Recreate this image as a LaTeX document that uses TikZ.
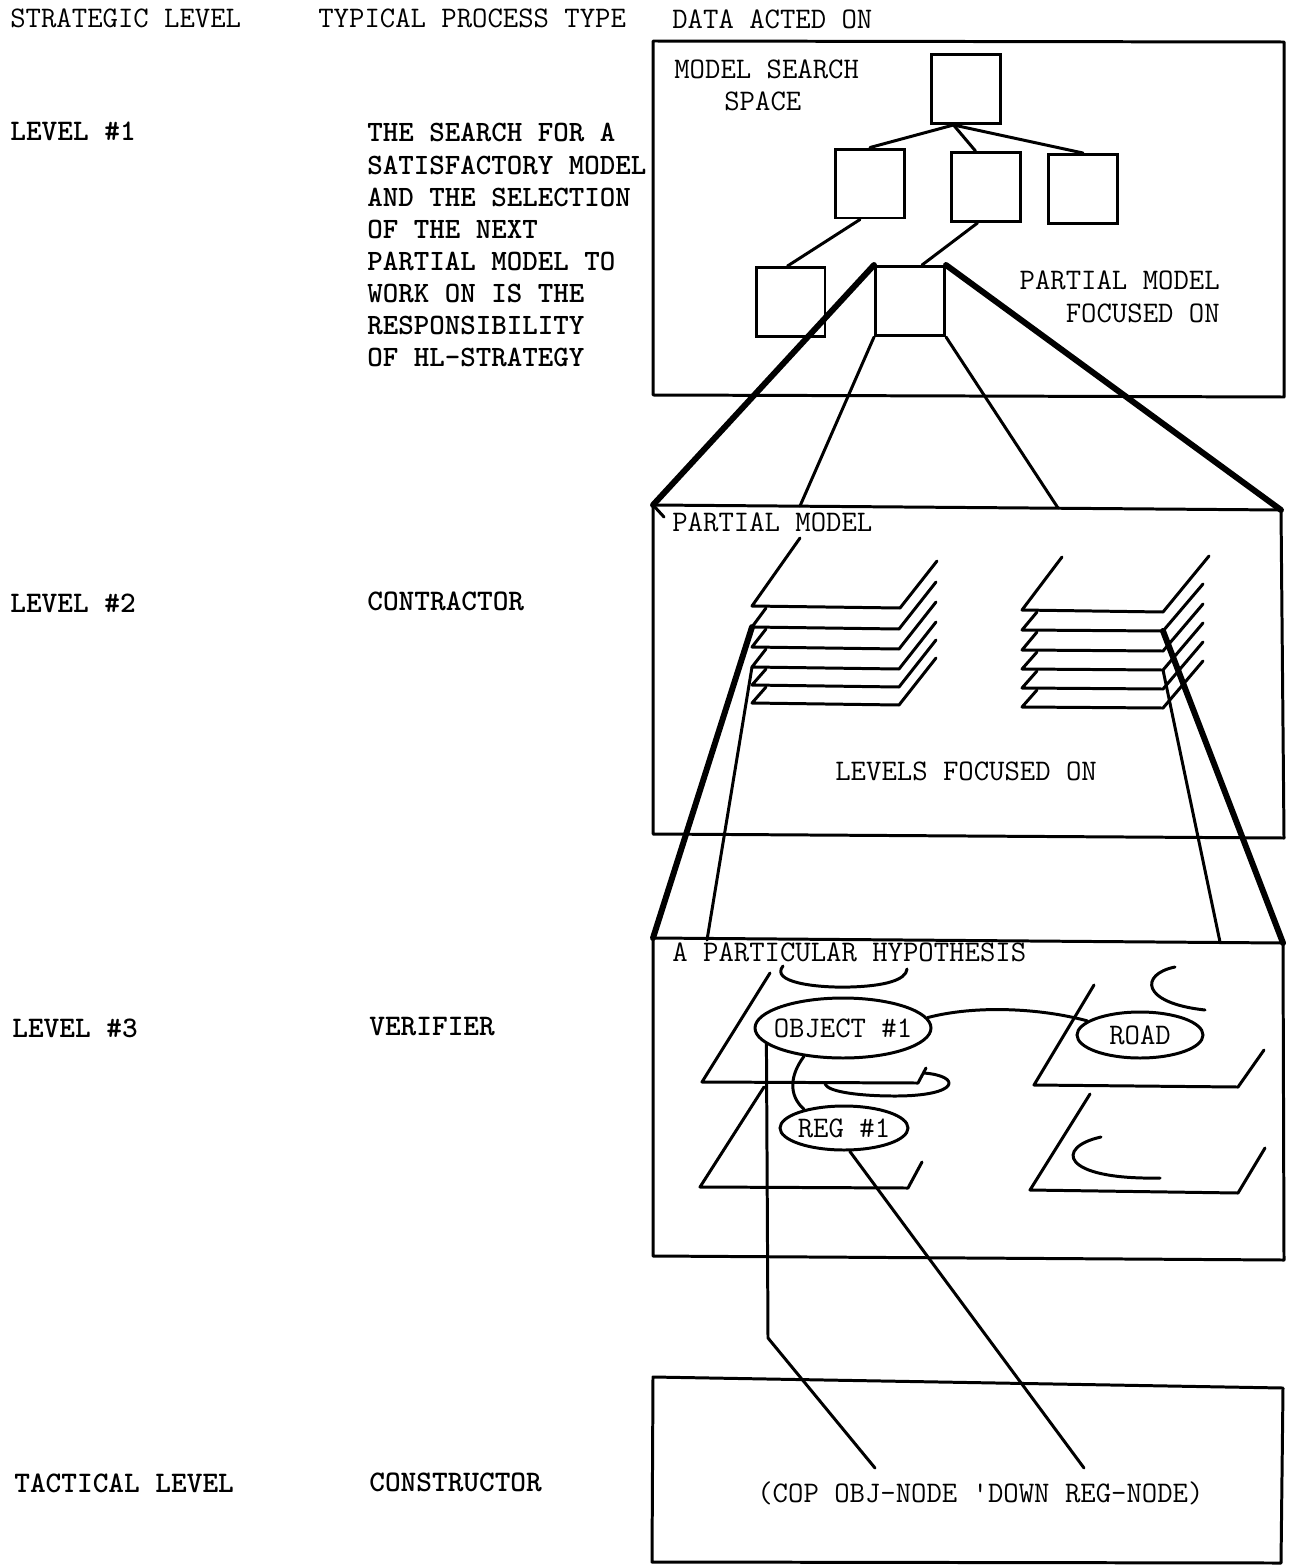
\documentclass[tikz,border=0pt]{standalone}
\usetikzlibrary{shapes.geometric,calc}
\begin{document}
\begin{tikzpicture}[x=0.02cm,y=-0.02cm,
  every node/.style={font=\fontsize{17}{18.3}\selectfont\ttfamily, inner sep=0pt},
  ln/.style={line width=1.7pt, line join=round, line cap=round},
  thk/.style={line width=3.4pt, line cap=round},
  lbl/.style={anchor=base west},
  blbl/.style={anchor=base west, font=\fontsize{17}{18.3}\selectfont\ttfamily\bfseries},
  rlbl/.style={anchor=base east},
  tbox/.style={draw, line width=1.7pt, minimum width=1.38cm, minimum height=1.38cm},
  oval/.style={draw, ellipse, line width=1.7pt}
]
\useasboundingbox (0,0) rectangle (1288,1568);

% column headers
\node[lbl] (h1) at (10,28) {STRATEGIC LEVEL};
\node[lbl] (h2) at (318,28) {TYPICAL PROCESS TYPE};
\node[lbl] (h3) at (672,29) {DATA ACTED ON};

% left columns
\node[blbl] (l1) at (10,140) {LEVEL \#1};
\node[blbl, align=left, font=\fontsize{16.8}{18.26}\selectfont\ttfamily\bfseries] (p1) at (367,366.5)
  {THE SEARCH FOR A\\SATISFACTORY MODEL\\AND THE SELECTION\\OF THE NEXT\\PARTIAL MODEL TO\\WORK ON IS THE\\RESPONSIBILITY\\OF HL-STRATEGY};
\node[blbl] (l2) at (10,612) {LEVEL \#2};
\node[blbl] (p2) at (367,610) {CONTRACTOR};
\node[blbl] (l3) at (12,1037) {LEVEL \#3};
\node[blbl] (p3) at (369,1035) {VERIFIER};
\node[blbl] (l4) at (14,1492) {TACTICAL LEVEL};
\node[blbl] (p4) at (369,1491) {CONSTRUCTOR};

% ---------- box 1 ----------
\coordinate (b1a) at (653,41); \coordinate (b1b) at (1284,42);
\coordinate (b1c) at (1284,397); \coordinate (b1d) at (653,395);
\draw[ln] (b1a) -- (b1b) -- (b1c) -- (b1d) -- cycle;
\node[lbl] (mss) at (674,79) {MODEL SEARCH};
\node[lbl] (msp) at (724,111) {SPACE};
\node[rlbl] (pmf1) at (1220,289) {PARTIAL MODEL};
\node[rlbl] (pmf2) at (1220,322) {FOCUSED ON};

\node[tbox] (r) at (965.5,89) {};
\node[tbox] (a) at (870,183.5) {};
\node[tbox] (b) at (985.5,187) {};
\node[tbox] (c) at (1083,189) {};
\node[tbox] (d) at (790.5,302) {};
\node[tbox] (e) at (910,301) {};

\coordinate (rj) at ($(r.south)+(-12,0)$);
\draw[ln] (rj) -- (a.north);
\draw[ln] (rj) -- ($(b.north)+(-10,0)$);
\draw[ln] (rj) -- (c.north);
\draw[ln] ($(a.south)+(-10,0)$) -- ($(d.north)+(-3,0)$);
\draw[ln] ($(b.south)+(-8,0)$) -- ($(e.north)+(12,0)$);

% ---------- box 2 ----------
\coordinate (b2a) at (653,505); \coordinate (b2b) at (1281,510);
\coordinate (b2c) at (1284,838); \coordinate (b2d) at (653,834);
\coordinate (b2m1) at (800,506); \coordinate (b2m2) at (1058,508);
\draw[ln] (b2a) -- (b2b) -- (b2c) -- (b2d) -- cycle;
\draw[ln] (b2a) -- +(11,12);

\draw[thk] (e.north west) -- (b2a);
\draw[thk] (e.north east) -- (b2b);
\draw[ln] (e.south west) -- (b2m1);
\draw[ln] (e.south east) -- (b2m2);

\node[lbl] (pm2) at (672,531) {PARTIAL MODEL};
\node[lbl] (lfo) at (835,780) {LEVELS FOCUSED ON};

% left stack of levels
\draw[ln] (800,538) -- (752,606) -- (900,608) -- (937,561);
\foreach \p/\q in {606/627, 627/647, 647/667, 667/685, 685/703}
  \draw[ln] (766,\p+2) -- (752,\q) -- (899,\q+2) -- (936,\q-45);
% right stack of levels
\draw[ln] (1062,557) -- (1022,610) -- (1163,612) -- (1209,556);
\foreach \p/\q in {610/630, 630/650, 650/669, 669/688, 688/707}
  \draw[ln] (1037,\p+2) -- (1022,\q) -- (1163,\q+1) -- (1203,\q-46);

\coordinate (Lt) at (752,627); \coordinate (Lb) at (752,667);
\coordinate (Rt) at (1163,631); \coordinate (Rb) at (1163,670);

% ---------- box 3 ----------
\coordinate (b3a) at (653,938); \coordinate (b3b) at (1283,943);
\coordinate (b3c) at (1284,1260); \coordinate (b3d) at (653,1256);
\coordinate (b3m1) at (707,940); \coordinate (b3m2) at (1220,942);
\draw[ln] (b3a) -- (b3b) -- (b3c) -- (b3d) -- cycle;

\draw[thk] (Lt) -- (b3a);
\draw[ln] (Lb) -- (b3m1);
\draw[thk] (Rt) -- (b3b);
\draw[ln] (Rb) -- (b3m2);

\node[lbl] (aph) at (672,961) {A PARTICULAR HYPOTHESIS};

% planes
\draw[ln] (770,973) -- (702,1082) -- (918,1083) -- (926,1068);
\draw[ln] (764,1087) -- (700,1187) -- (908,1188) -- (922,1162);
\draw[ln] (1094,985) -- (1034,1085) -- (1238,1087) -- (1264,1050);
\draw[ln] (1090,1094) -- (1030,1190) -- (1238,1193) -- (1265,1148);

% region outlines
\draw[ln] (783,966) .. controls (770,982) and (815,988) .. (850,987) .. controls (885,986) and (906,980) .. (907,969);
\draw[ln] (1175,967) .. controls (1140,974) and (1140,1003) .. (1205,1010);
\draw[ln] (1101,1137) .. controls (1055,1147) and (1060,1180) .. (1160,1178);
\draw[ln] (924,1073) .. controls (962,1076) and (960,1096) .. (895,1096) .. controls (860,1096) and (828,1092) .. (825,1084);

% hypothesis nodes
\node[oval, minimum width=3.52cm, minimum height=1.2cm] (obj) at (843,1028) {\makebox[0pt]{OBJECT \#1}};
\node[oval, minimum width=2.52cm, minimum height=0.92cm] (road) at (1140,1035) {\makebox[0pt]{ROAD}};
\node[oval, minimum width=2.56cm, minimum height=0.88cm] (reg) at (844,1128) {\makebox[0pt]{REG \#1}};

\draw[ln] (obj.7) .. controls (975,1005) and (1040,1008) .. (road.165);
\draw[ln] (obj.216) .. controls (790,1075) and (788,1095) .. (reg.155);

% ---------- box 4 ----------
\coordinate (b4a) at (653,1377); \coordinate (b4b) at (1283,1388);
\coordinate (b4c) at (1281,1563); \coordinate (b4d) at (652,1562);
\draw[ln] (b4a) -- (b4b) -- (b4c) -- (b4d) -- cycle;
\node[lbl] (cop) at (757,1502) {(COP OBJ-NODE \textquotesingle DOWN REG-NODE)};

\coordinate (k1) at (768,1338);
\coordinate (k2) at (875,1468);
\coordinate (k3) at (1084,1468);
\draw[ln] (obj.192) -- (k1) -- (k2);
\draw[ln] (reg.284) -- (k3);
\end{tikzpicture}
\end{document}
